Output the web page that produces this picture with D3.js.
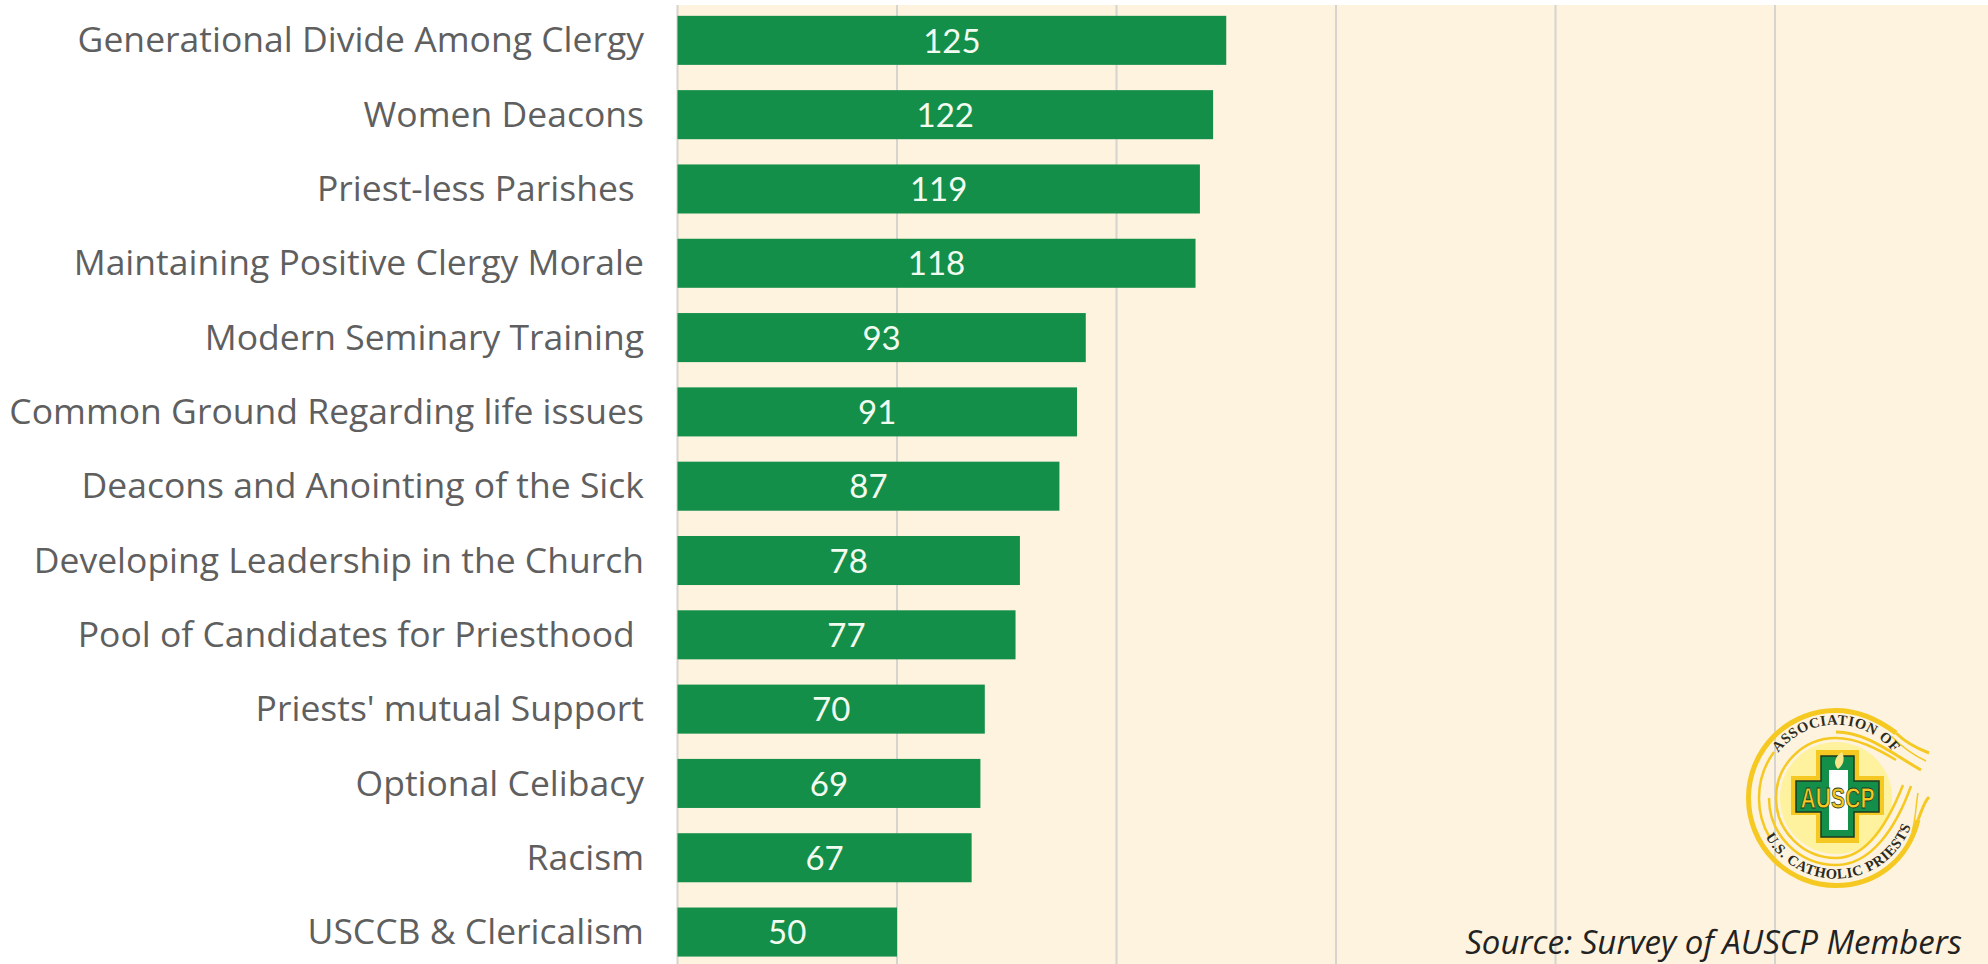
<!DOCTYPE html>
<html><head><meta charset="utf-8">
<script src="https://cdn.jsdelivr.net/npm/d3@7/dist/d3.min.js"></script>
<style>
html,body{margin:0;padding:0;background:#fff;overflow:hidden}
svg{display:block}
text{white-space:pre}
</style></head><body>
<svg id="chart" width="1988" height="964"></svg>
<script>
const categories = ["Generational Divide Among Clergy","Women Deacons","Priest-less Parishes ","Maintaining Positive Clergy Morale","Modern Seminary Training","Common Ground Regarding life issues","Deacons and Anointing of the Sick","Developing Leadership in the Church","Pool of Candidates for Priesthood ","Priests' mutual Support","Optional Celibacy","Racism","USCCB & Clericalism"];
const values = [125,122,119,118,93,91,87,78,77,70,69,67,50];
const gridTicks = [0,50,100,150,200,250];
const sourceNote = "Source: Survey of AUSCP Members";

const svg = d3.select("#chart");
const x = d3.scaleLinear().domain([0,300]).range([677.5,1994.5]);
const y = d3.scaleBand().domain(categories).range([3.2,969.2]).paddingInner(0.34).paddingOuter(0.17);

const FONT = "'Open Sans', Lato, sans-serif";
const VALFONT = "Lato, sans-serif";
svg.append("rect").attr("x",677).attr("y",5).attr("width",1311).attr("height",959).attr("fill","#FDF3DE");

svg.append("g").selectAll("line").data(gridTicks).join("line")
  .attr("x1",d=>x(d)).attr("x2",d=>x(d)).attr("y1",5).attr("y2",964)
  .attr("stroke","#D6D4CE").attr("stroke-width",2);

svg.append("g").selectAll("rect").data(categories).join("rect")
  .attr("x",x(0)).attr("y",d=>y(d)).attr("height",y.bandwidth())
  .attr("width",(d,i)=>x(values[i])-x(0)).attr("fill","#148F49");

svg.append("g").selectAll("text").data(categories).join("text")
  .attr("x",644).attr("y",d=>y(d)+y.bandwidth()/2).attr("dy","0.34em")
  .attr("text-anchor","end").attr("fill","#5f5f5f")
  .attr("font-family",FONT).attr("font-size",35.5).text(d=>d);

svg.append("g").selectAll("text").data(categories).join("text")
  .attr("x",(d,i)=>(x(0)+x(values[i]))/2).attr("y",d=>y(d)+y.bandwidth()/2).attr("dy","0.37em")
  .attr("text-anchor","middle").attr("fill","#F2FBF0")
  .attr("font-family",VALFONT).attr("font-size",33).text((d,i)=>values[i]);

svg.append("text").attr("x",1962).attr("y",954).attr("text-anchor","end")
  .attr("fill","#222").attr("font-family",FONT).attr("font-style","italic")
  .attr("font-size",33).text(sourceNote);

// logo
const Y="#F5C922";
const logo = svg.append("g").attr("transform","translate(1836,798)");
const defs = svg.append("defs");
defs.append("path").attr("id","topArc").attr("d","M-60,-42 A73,73 0 0 1 60,-42");
defs.append("path").attr("id","botArc").attr("d","M-72,36 A80,80 0 0 0 76,25");
logo.append("circle").attr("r",56).attr("fill","#FFF29E");
logo.append("path").attr("fill","none").attr("stroke",Y).attr("stroke-width",5)
  .attr("d","M60,-65 C40,-80 20,-87.5 0,-87.5 A87.5,87.5 0 1 0 0,87.5 C40,87.5 72,62 82,22");
const sw=[
  ["M60,-65 C70,-55 80,-50 93,-45",3],
  ["M55,-62 C65,-52 75,-44 90,-37",1.5],
  ["M0,-66 C30,-66 55,-45 85,-28",3],
  ["M-67,0 A67,67 0 0 0 0,67 C35,67 60,30 75,-12",2.5],
  ["M-60,0 A60,60 0 0 1 0,-60 C20,-60 40,-50 60,-38",2.5],
  ["M-60,0 A60,60 0 0 0 0,60 C30,60 52,25 67,-13",2.5],
  ["M82,22 C86,12 88,4 93,-1",3],
  ["M76,34 C80,20 80,5 82,-5",1.5],
  ["M-77,0 A77,77 0 0 0 -66,40",2.5],
  ["M-77,0 A77,77 0 0 1 -62,-46",2.5]
];
sw.forEach(s=>logo.append("path").attr("fill","none").attr("stroke",Y).attr("stroke-width",s[1]).attr("d",s[0]));
logo.append("path").attr("d","M-20,-48H23V-22H48V17H23V45H-20V17H-45V-22H-20Z").attr("fill",Y);
logo.append("path").attr("d","M-15,-42H18V-17H43V14H18V39H-15V14H-40V-17H-15Z").attr("fill","#148F49").attr("stroke","#1d3a22").attr("stroke-width",1.5);
logo.append("rect").attr("x",-7).attr("y",-28).attr("width",19).attr("height",60).attr("fill","#fff");
logo.append("path").attr("d","M2,-29 C-5,-36 2,-44 6,-46 C9,-40 8,-33 2,-29Z").attr("fill","#F7E58A");
logo.append("text").attr("x",1.5).attr("y",10).attr("text-anchor","middle").attr("font-family","'Liberation Sans Narrow',sans-serif")
  .attr("font-weight","bold").attr("font-size",29).attr("textLength",74).attr("lengthAdjust","spacingAndGlyphs")
  .attr("fill",Y).attr("stroke","#1d3a22").attr("stroke-width",0.8).text("AUSCP");
const arcText=(id,t,fs)=>logo.append("text").attr("font-family","'Liberation Serif',serif").attr("font-weight","bold")
  .attr("font-size",fs).attr("letter-spacing",0.6).attr("fill","#2b2b1e").append("textPath").attr("href","#"+id).attr("startOffset","50%").attr("text-anchor","middle").text(t);
arcText("topArc","ASSOCIATION OF",14.5);
arcText("botArc","U.S. CATHOLIC PRIESTS",14.5);
</script>
</body></html>
